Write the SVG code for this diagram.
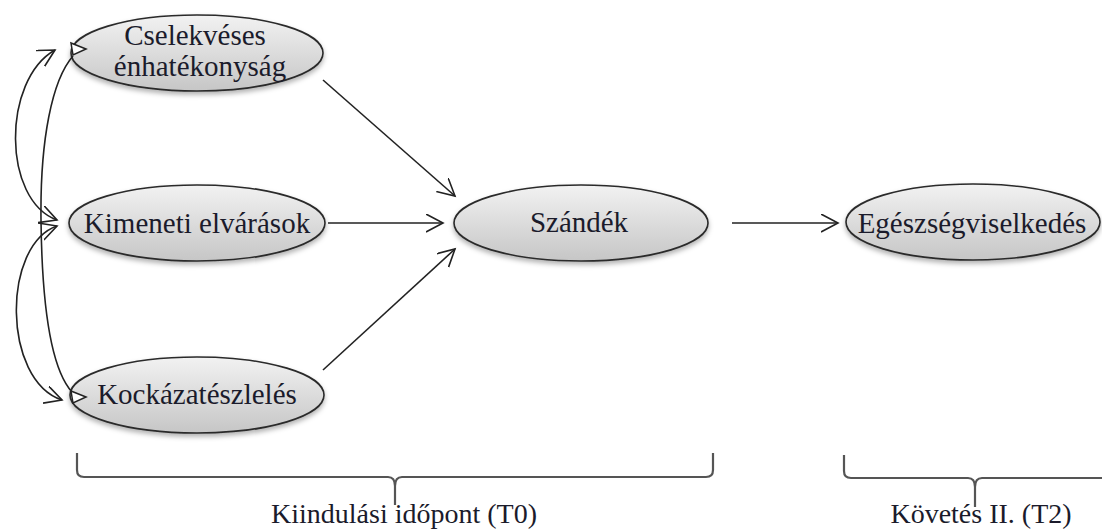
<svg xmlns="http://www.w3.org/2000/svg" width="1102" height="530" viewBox="0 0 1102 530">
<style>
.node ellipse{fill:url(#g);stroke:#2a2a2a;stroke-width:1.6;filter:url(#sh)}
.node text,.lbl{font-family:"Liberation Serif","Times New Roman",serif;font-size:29px;fill:#1b1b2b;text-anchor:middle}
.lbl{font-size:28px}
.con{fill:none;stroke:#222;stroke-width:1.6}
.br{fill:none;stroke:#555;stroke-width:2.2}
.tri{fill:#fff;stroke:#222;stroke-width:1.5}
</style>
<defs>
<linearGradient id="g" x1="0" y1="0" x2="0" y2="1">
<stop offset="0" stop-color="#f2f2f2"/>
<stop offset="1" stop-color="#c6c6c6"/>
</linearGradient>
<filter id="sh" x="-10%" y="-20%" width="120%" height="150%">
<feDropShadow dx="0" dy="3" stdDeviation="2.5" flood-color="#000" flood-opacity="0.3"/>
</filter>
<marker id="v" viewBox="0 0 20 20" markerWidth="20" markerHeight="20" refX="17" refY="9" orient="auto-start-reverse" markerUnits="userSpaceOnUse">
<path d="M0,0 L17,9 L0,18" fill="none" stroke="#222" stroke-width="1.6"/>
</marker>
<path id="triShape" class="tri" d="M0,0 L-15,-6 L-13,6 Z"/>
</defs>
<rect width="1102" height="530" fill="#fff"/>
<g id="n-cselekveses" class="node">
<ellipse cx="197" cy="53" rx="126" ry="38"/>
<text x="195" y="45">Cselekvéses</text>
<text x="200" y="76">énhatékonyság</text>
</g>
<g id="n-kimeneti" class="node">
<ellipse cx="197" cy="223" rx="128" ry="38"/>
<text x="197" y="233">Kimeneti elvárások</text>
</g>
<g id="n-kockazat" class="node">
<ellipse cx="197" cy="395" rx="127" ry="38"/>
<text x="197" y="404">Kockázatészlelés</text>
</g>
<g id="n-szandek" class="node">
<ellipse cx="581" cy="223" rx="127" ry="38"/>
<text x="579" y="232">Szándék</text>
</g>
<g id="n-egeszseg" class="node">
<ellipse cx="973" cy="222" rx="127" ry="38"/>
<text x="972" y="233">Egészségviselkedés</text>
</g>
<g id="connectors">
<path class="con" d="M323,80 L455,196" marker-end="url(#v)"/>
<path class="con" d="M328,223 L443,223" marker-end="url(#v)"/>
<path class="con" d="M323,370 L455,249" marker-end="url(#v)"/>
<path class="con" d="M732,223 L838,223" marker-end="url(#v)"/>
<path class="con" d="M55,50 C2,80 2,200 57,220" marker-start="url(#v)" marker-end="url(#v)"/>
<path class="con" d="M57,226 C2,245 2,380 62,400" marker-start="url(#v)" marker-end="url(#v)"/>
<path class="con" d="M73,56 C52,80 40,140 41,220 C42,310 52,370 72,392"/>
<use href="#triShape" x="86" y="49"/>
<use href="#triShape" x="86" y="397"/>
</g>
<g id="brackets">
<path class="br" d="M77,453 L77,470 Q77,477 84,477 L388,477 Q395,477 395,486 L395,505 M395,486 Q395,477 402,477 L706,477 Q713,477 713,470 L713,453"/>
<path class="br" d="M844,455 L844,471 Q844,478 851,478 L968,478 Q975,478 975,487 L975,507 M975,487 Q975,478 982,478 L1104,478"/>
<text class="lbl" x="404" y="523">Kiindulási időpont (T0)</text>
<text class="lbl" x="981" y="523">Követés II. (T2)</text>
</g>
</svg>
